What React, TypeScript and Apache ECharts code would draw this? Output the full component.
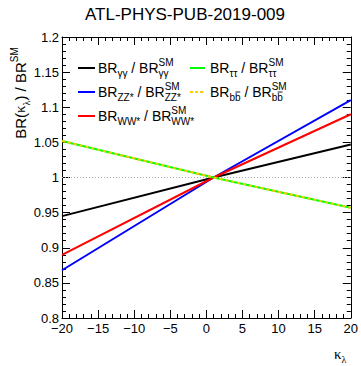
import React, { useEffect, useRef } from "react";
import * as echarts from "echarts";

// ---- data ----
const kappaLambda = [-20, 1, 20];
const ratioGammaGamma = [0.945, 1.0, 1.047];
const ratioZZ = [0.868, 1.0, 1.11];
const ratioWW = [0.89, 1.0, 1.09];
const ratioTauTau = [1.052, 1.0, 0.957];
const ratioBB = [1.052, 1.0, 0.957];
const smLineX = [-20, 20];
const smLineY = [1, 1];
const xMin = -20;
const xMax = 20;
const xStep = 5;
const yMin = 0.8;
const yMax = 1.2;
const yStep = 0.05;

const titleText = "ATL-PHYS-PUB-2019-009";
const channelNames = ["γγ", "ZZ*", "WW*", "ττ", "bb\u0304"];
const channelLegendText = ["γγ", "ZZ*", "WW*", "ττ", "bb"];
const channelHasBar = [false, false, false, false, true];

const FONT = '"Liberation Sans", Arial, Helvetica, sans-serif';
const SERIF = '"Liberation Serif", "DejaVu Serif", serif';

const canvasCtx = document.createElement("canvas").getContext("2d")!;
function measure(text: string, size: number, family = FONT) {
  canvasCtx.font = `${size}px ${family}`;
  return canvasCtx.measureText(text).width;
}

function txt(t: string, x: number, y: number, size: number, family = FONT) {
  return {
    type: "text",
    x,
    y,
    silent: true,
    style: {
      text: t,
      fontSize: size,
      fontFamily: family,
      fill: "#000",
      textAlign: "left",
      textVerticalAlign: "middle",
    },
  };
}

function subText(els: any[], t: string, x: number, y: number, size: number, bar: boolean) {
  els.push(txt(t, x, y, size));
  if (bar) {
    const w1 = measure(t.slice(0, -1), size);
    const w2 = measure(t.slice(-1), size);
    els.push({
      type: "line",
      silent: true,
      shape: { x1: x + w1 + 0.5, y1: y - 5, x2: x + w1 + w2 - 0.3, y2: y - 5 },
      style: { stroke: "#000", lineWidth: 0.9 },
    });
  }
}

function legendEntry(
  lx0: number,
  lx1: number,
  tx: number,
  yc: number,
  sub: string,
  bar: boolean,
  color: string,
  dashed: boolean
) {
  const els: any[] = [];
  els.push({
    type: "line",
    silent: true,
    shape: { x1: lx0, y1: yc, x2: lx1, y2: yc },
    style: { stroke: color, lineWidth: 2, lineDash: dashed ? [3, 2] : null },
  });
  let x = tx;
  const MAIN = 14;
  const SMALL = 10;
  els.push(txt("BR", x, yc, MAIN));
  x += measure("BR", MAIN);
  subText(els, sub, x, yc + 5, SMALL, bar);
  x += measure(sub, SMALL);
  els.push(txt(" / BR", x, yc, MAIN));
  x += measure(" / BR", MAIN);
  els.push(txt("SM", x, yc - 6, SMALL));
  subText(els, sub, x, yc + 5, SMALL, bar);
  return els;
}

export default function App() {
  const ref = useRef<HTMLDivElement>(null);

  useEffect(() => {
    if (!ref.current) return;
    const chart = echarts.init(ref.current, undefined, { renderer: "svg" });

    const colors = ["#000000", "#0000ff", "#ff0000", "#00ff00", "#ffcc00"];
    const seriesValues = [ratioGammaGamma, ratioZZ, ratioWW, ratioTauTau, ratioBB];

    const axisCommon = {
      type: "value" as const,
      axisLine: { show: true, onZero: false, lineStyle: { color: "#000", width: 1 } },
      axisTick: { show: true, inside: true, length: 8, lineStyle: { color: "#000" } },
      minorTick: { show: true, splitNumber: 5, length: 4, lineStyle: { color: "#000" } },
      splitLine: { show: false },
      minorSplitLine: { show: false },
    };

    const xAxisBase = { ...axisCommon, min: xMin, max: xMax, interval: xStep };
    const yAxisBase = { ...axisCommon, min: yMin, max: yMax, interval: yStep };

    const graphics: any[] = [];
    graphics.push({
      type: "text",
      x: 185,
      y: 14,
      silent: true,
      style: {
        text: titleText,
        fontSize: 17,
        fontFamily: FONT,
        fill: "#000",
        textAlign: "center",
        textVerticalAlign: "middle",
      },
    });
    // y axis title
    graphics.push({
      type: "text",
      x: 20,
      y: 93,
      rotation: Math.PI / 2,
      silent: true,
      style: {
        text: "{n|BR(}{k|κ}{sub|λ}{n|) / BR}{sup|SM}",
        textAlign: "center",
        textVerticalAlign: "middle",
        fill: "#000",
        rich: {
          n: { fontSize: 15, fontFamily: FONT, lineHeight: 22, verticalAlign: "middle", fill: "#000" },
          k: { fontSize: 15, fontFamily: SERIF, lineHeight: 22, verticalAlign: "middle", fill: "#000" },
          sub: { fontSize: 10, fontFamily: SERIF, lineHeight: 12, verticalAlign: "bottom", fill: "#000" },
          sup: { fontSize: 10, fontFamily: FONT, lineHeight: 12, verticalAlign: "top", fill: "#000" },
        },
      },
    });
    // x axis title
    graphics.push({
      type: "text",
      x: 334,
      y: 354,
      silent: true,
      style: {
        text: "{k|κ}{sub|λ}",
        textAlign: "left",
        textVerticalAlign: "middle",
        fill: "#000",
        rich: {
          k: { fontSize: 15, fontFamily: SERIF, lineHeight: 20, verticalAlign: "middle", fill: "#000" },
          sub: { fontSize: 10, fontFamily: SERIF, lineHeight: 12, verticalAlign: "bottom", fill: "#000" },
        },
      },
    });
    // legend
    const rowY = [68, 92, 116];
    const slots = [
      [78, 95, 98, rowY[0]],
      [78, 95, 98, rowY[1]],
      [78, 95, 98, rowY[2]],
      [190, 205, 210, rowY[0]],
      [190, 205, 210, rowY[1]],
    ];
    slots.forEach((s, i) => {
      graphics.push(
        ...legendEntry(s[0], s[1], s[2], s[3], channelLegendText[i], channelHasBar[i], colors[i], i === 4)
      );
    });

    const lineSeries = seriesValues.map((vals, i) => ({
      type: "line" as const,
      name: channelNames[i],
      data: kappaLambda.map((k, j) => [k, vals[j]]),
      symbol: "none",
      xAxisIndex: 0,
      yAxisIndex: 0,
      z: 3 + i,
      lineStyle: {
        color: colors[i],
        width: 2,
        type: i === 4 ? ([3, 3] as any) : "solid",
      },
    }));

    chart.setOption({
      animation: false,
      backgroundColor: "#fff",
      grid: { left: 62, right: 9, top: 37, bottom: 48, containLabel: false },
      xAxis: [
        {
          ...xAxisBase,
          position: "bottom",
          axisLabel: {
            show: true,
            margin: 4,
            fontSize: 13,
            fontFamily: FONT,
            color: "#000",
            formatter: (v: number) => (v < 0 ? "\u2212" + Math.abs(v) : String(v)),
          },
        },
        { ...xAxisBase, position: "top", axisLabel: { show: false } },
      ],
      yAxis: [
        {
          ...yAxisBase,
          position: "left",
          axisLabel: {
            show: true,
            margin: 3,
            fontSize: 13,
            fontFamily: FONT,
            color: "#000",
            formatter: (v: number) => String(parseFloat(v.toFixed(2))),
          },
        },
        { ...yAxisBase, position: "right", axisLabel: { show: false } },
      ],
      series: [
        {
          type: "line",
          data: smLineX.map((x, i) => [x, smLineY[i]]),
          symbol: "none",
          z: 2,
          lineStyle: { color: "#aaa", width: 1, type: [1, 2] as any },
        },
        ...lineSeries,
      ],
      graphic: graphics,
    });

    return () => chart.dispose();
  }, []);

  return <div ref={ref} style={{ width: 361, height: 366, position: "absolute", left: 0, top: 0 }} />;
}
